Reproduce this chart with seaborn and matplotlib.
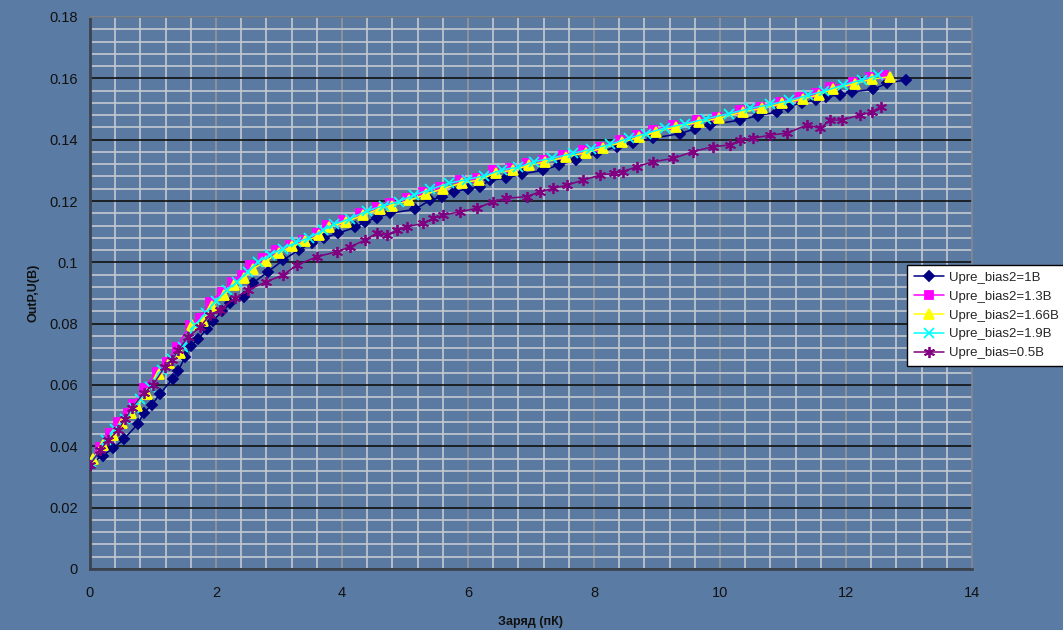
import numpy as np
import pandas as pd
import matplotlib
matplotlib.use('Agg')
import matplotlib.pyplot as plt
import seaborn as sns
from matplotlib.ticker import MultipleLocator

# ---- data ----
x_1v = [0.03, 0.2, 0.37, 0.54, 0.76, 0.85, 0.98, 1.11, 1.31, 1.40,
        1.51, 1.60, 1.72, 1.85, 1.95, 2.1, 2.23, 2.45, 2.59, 2.83,
        3.07, 3.31, 3.52, 3.72, 3.94, 4.21, 4.37, 4.55, 4.76, 5.16,
        5.4, 5.58, 5.77, 6.0, 6.19, 6.35, 6.61, 6.85, 7.19, 7.45,
        7.72, 8.04, 8.36, 8.62, 8.94, 9.37, 9.6, 9.84, 10.32, 10.6,
        10.9, 11.08, 11.3, 11.53, 11.69, 11.9, 12.1, 12.43, 12.65, 12.95]
y_1v = [0.0345, 0.037, 0.0394, 0.0424, 0.0473, 0.0508, 0.0535, 0.0571, 0.062, 0.0646,
        0.0692, 0.0728, 0.075, 0.0783, 0.081, 0.084, 0.0866, 0.0888, 0.0933, 0.097,
        0.1008, 0.104, 0.1062, 0.108, 0.1095, 0.1114, 0.1133, 0.1145, 0.116, 0.1173,
        0.1203, 0.1214, 0.123, 0.124, 0.1246, 0.1268, 0.1274, 0.1288, 0.130, 0.1318,
        0.1334, 0.1356, 0.1377, 0.139, 0.1405, 0.142, 0.1435, 0.1448, 0.1464, 0.1478,
        0.149, 0.1508, 0.152, 0.153, 0.154, 0.1546, 0.1556, 0.1564, 0.1584, 0.1595]

x_13v = [0, 0.16, 0.32, 0.45, 0.61, 0.69, 0.85, 1.06, 1.22, 1.38,
         1.59, 1.75, 1.9, 2.09, 2.25, 2.41, 2.54, 2.75, 2.96, 3.17,
         3.38, 3.6, 3.76, 4.02, 4.29, 4.55, 4.76, 5.03, 5.29, 5.56,
         5.87, 6.14, 6.4, 6.67, 6.93, 7.19, 7.51, 7.83, 8.1, 8.41,
         8.68, 8.94, 9.26, 9.63, 9.95, 10.32, 10.63, 10.95, 11.27, 11.53,
         11.75, 12.11, 12.38, 12.6]
y_13v = [0.035, 0.0399, 0.0442, 0.048, 0.0508, 0.0538, 0.0589, 0.0643, 0.0676, 0.0725,
         0.0796, 0.0817, 0.0872, 0.0904, 0.0937, 0.0959, 0.099, 0.1014, 0.104, 0.1057,
         0.1073, 0.1095, 0.1122, 0.1138, 0.116, 0.1181, 0.1192, 0.1209, 0.123, 0.1247,
         0.1268, 0.1274, 0.130, 0.1307, 0.1323, 0.1334, 0.135, 0.1366, 0.1377, 0.1399,
         0.1415, 0.1431, 0.1448, 0.1464, 0.1475, 0.1497, 0.1508, 0.1524, 0.154, 0.1551,
         0.1573, 0.1589, 0.1605, 0.161]

x_166v = [0.05, 0.2, 0.36, 0.5, 0.65, 0.74, 0.9, 1.1, 1.26, 1.43,
          1.62, 1.79, 1.94, 2.13, 2.29, 2.45, 2.58, 2.8, 3.0, 3.21,
          3.42, 3.64, 3.8, 4.06, 4.33, 4.6, 4.8, 5.07, 5.33, 5.6,
          5.91, 6.18, 6.44, 6.71, 6.97, 7.23, 7.55, 7.87, 8.14, 8.45,
          8.72, 8.98, 9.3, 9.67, 9.99, 10.36, 10.67, 10.99, 11.31, 11.57,
          11.8, 12.15, 12.42, 12.7]
y_166v = [0.036, 0.0405, 0.0438, 0.0475, 0.051, 0.0532, 0.0572, 0.0635, 0.0672, 0.0705,
          0.0795, 0.081, 0.0858, 0.0895, 0.0925, 0.095, 0.0978, 0.1005, 0.1032, 0.1052,
          0.1068, 0.1088, 0.1115, 0.1132, 0.1153, 0.1175, 0.1185, 0.1202, 0.1222, 0.124,
          0.126, 0.1268, 0.1292, 0.13, 0.1316, 0.1328, 0.1343, 0.1358, 0.1372, 0.1392,
          0.1408, 0.1425, 0.1442, 0.1457, 0.147, 0.149, 0.1502, 0.1518, 0.1533, 0.1546,
          0.1566, 0.1583, 0.1598, 0.1605]

x_19v = [0.02, 0.26, 0.4, 0.55, 0.7, 0.8, 0.95, 1.14, 1.3, 1.47,
         1.67, 1.84, 2.0, 2.17, 2.33, 2.5, 2.66, 2.86, 3.06, 3.27,
         3.48, 3.7, 3.88, 4.12, 4.4, 4.66, 4.9, 5.15, 5.4, 5.7,
         5.98, 6.26, 6.54, 6.8, 7.04, 7.34, 7.66, 7.96, 8.26, 8.55,
         8.82, 9.12, 9.45, 9.78, 10.14, 10.48, 10.8, 11.1, 11.4, 11.65,
         11.95, 12.25, 12.5]
y_19v = [0.035, 0.042, 0.0455, 0.049, 0.0525, 0.0555, 0.0595, 0.065, 0.0685, 0.0725,
         0.0795, 0.0835, 0.0875, 0.091, 0.0935, 0.097, 0.1, 0.1025, 0.1045, 0.1065,
         0.108, 0.1105, 0.1125, 0.1142, 0.1168, 0.1185, 0.1198, 0.122, 0.1238, 0.1258,
         0.127, 0.1282, 0.1302, 0.131, 0.1328, 0.134, 0.1355, 0.137, 0.1385, 0.1405,
         0.142, 0.1438, 0.1452, 0.1468, 0.1485, 0.1502, 0.1515, 0.1528, 0.1545, 0.1558,
         0.1578, 0.1595, 0.161]

x_05v = [0, 0.16, 0.29, 0.45, 0.56, 0.66, 0.85, 1.0, 1.19, 1.3,
         1.4, 1.56, 1.75, 1.9, 2.06, 2.3, 2.51, 2.8, 3.07, 3.28,
         3.6, 3.92, 4.13, 4.37, 4.55, 4.71, 4.87, 5.03, 5.29, 5.45,
         5.61, 5.87, 6.14, 6.4, 6.61, 6.93, 7.14, 7.35, 7.57, 7.83,
         8.1, 8.31, 8.46, 8.68, 8.94, 9.26, 9.57, 9.89, 10.16, 10.32,
         10.52, 10.79, 11.06, 11.38, 11.59, 11.75, 11.93, 12.22, 12.41, 12.55]
y_05v = [0.034, 0.0388, 0.042, 0.0453, 0.049, 0.0524, 0.0573, 0.060, 0.066, 0.068,
         0.0714, 0.0757, 0.079, 0.0828, 0.0845, 0.0883, 0.091, 0.0937, 0.0959, 0.0991,
         0.1018, 0.1035, 0.1051, 0.1073, 0.1095, 0.1089, 0.1105, 0.1116, 0.1127, 0.1144,
         0.1154, 0.1165, 0.1176, 0.1198, 0.1209, 0.1214, 0.123, 0.1241, 0.1252, 0.1268,
         0.1285, 0.129, 0.1296, 0.1312, 0.1328, 0.1339, 0.1361, 0.1377, 0.1383, 0.1399,
         0.1404, 0.1415, 0.1421, 0.1448, 0.1437, 0.1464, 0.1464, 0.148, 0.149, 0.1508]

labels = ['Upre_bias2=1В', 'Upre_bias2=1.3В', 'Upre_bias2=1.66В',
          'Upre_bias2=1.9В', 'Upre_bias=0.5В']

series = [
    (x_1v, y_1v, '#000080', 'D', 5.5),
    (x_13v, y_13v, '#ff00ff', 's', 6),
    (x_166v, y_166v, '#ffff00', '^', 7),
    (x_19v, y_19v, '#00ffff', 'x', 6.5),
    (x_05v, y_05v, '#800080', (6, 2, 0), 8),
]

# ---- style ----
sns.set_style('white')
plt.rcParams['font.family'] = ['Liberation Sans', 'DejaVu Sans']

bg = '#5a7ba3'
fig = plt.figure(figsize=(10.63, 6.3), dpi=100, facecolor=bg)
ax = fig.add_axes([90 / 1063, 1 - 569 / 630, 882 / 1063, 552 / 630])
ax.set_facecolor('#5a7aa1')

for (xs, ys, col, mk, ms), lab in zip(series, labels):
    df = pd.DataFrame({'x': xs, 'y': ys})
    sns.lineplot(data=df, x='x', y='y', ax=ax, color=col, marker=mk,
                 markersize=ms, markeredgecolor=col, markeredgewidth=1.3,
                 linewidth=1.1, sort=False, label=lab, zorder=3)

ax.set_xlim(0, 14)
ax.set_ylim(0, 0.18)
ax.xaxis.set_major_locator(MultipleLocator(2))
ax.xaxis.set_minor_locator(MultipleLocator(0.4))
ax.yaxis.set_major_locator(MultipleLocator(0.02))
ax.yaxis.set_minor_locator(MultipleLocator(0.004))
ax.set_yticks(np.arange(0, 0.181, 0.02))
ax.set_yticklabels(['0', '0.02', '0.04', '0.06', '0.08', '0.1', '0.12',
                    '0.14', '0.16', '0.18'])

ax.grid(which='minor', axis='both', color='#c4c9d0', linewidth=1.2, zorder=0)
ax.grid(which='major', axis='x', color='#8e949c', linewidth=1.3, zorder=0)
ax.grid(which='major', axis='y', color='#111111', linewidth=1.2, zorder=1)
ax.set_axisbelow(True)

ax.tick_params(which='both', length=0, labelsize=10.5, colors='#111111')
ax.tick_params(axis='x', pad=12)
ax.tick_params(axis='y', pad=9)
for s in ['left', 'bottom']:
    ax.spines[s].set_color('#3c4450')
    ax.spines[s].set_linewidth(2)
for s in ['top', 'right']:
    ax.spines[s].set_color('#808690')
    ax.spines[s].set_linewidth(1.2)

ax.set_xlabel('Заряд (пК)', fontsize=9, fontweight='bold', color='#111111', labelpad=12)
ax.set_ylabel('OutP,U(В)', fontsize=9, fontweight='bold', color='#111111', labelpad=7)

ax.get_legend().remove()
handles, labs = ax.get_legend_handles_labels()
leg = fig.legend(handles, labs, loc='upper left',
                 bbox_to_anchor=(907 / 1063, 1 - 265 / 630),
                 frameon=True, fancybox=False, fontsize=9.5, handlelength=2.3,
                 borderpad=0.5, labelspacing=0.5, handletextpad=0.35,
                 borderaxespad=0)
leg.get_frame().set_facecolor('white')
leg.get_frame().set_edgecolor('black')
leg.get_frame().set_linewidth(1)
leg.get_frame().set_alpha(1)

fig.savefig('out.png', dpi=100, facecolor=bg)
